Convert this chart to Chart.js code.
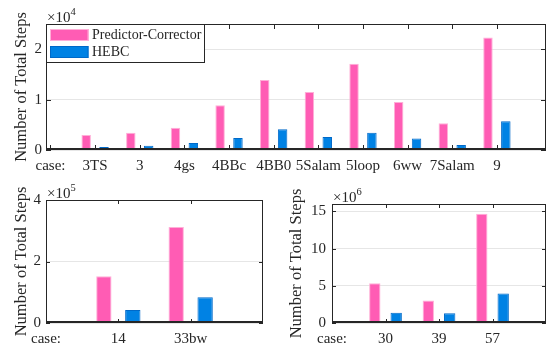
<!DOCTYPE html>
<html><head><meta charset="utf-8">
<script src="https://cdn.jsdelivr.net/npm/chart.js@4.4.1/dist/chart.umd.min.js"></script>
<style>
html,body{margin:0;padding:0;background:#fff;}
body{width:550px;height:351px;position:relative;overflow:hidden;}
canvas{position:absolute;}
</style></head>
<body>
<canvas id="cTop" width="550" height="180" style="left:0;top:0;width:550px;height:180px"></canvas>
<canvas id="cLeft" width="275" height="171" style="left:0;top:180px;width:275px;height:171px"></canvas>
<canvas id="cRight" width="275" height="171" style="left:275px;top:180px;width:275px;height:171px"></canvas>
<script>
// ---- data ----
const seriesNames = ['Predictor-Corrector', 'HEBC'];

const topCases = ['3TS', '3', '4gs', '4BBc', '4BB0', '5Salam', '5loop', '6ww', '7Salam', '9'];
const topPredictorCorrector = [3000, 3400, 4400, 8900, 13900, 11500, 17100, 9500, 5300, 22300];
const topHEBC = [600, 850, 1400, 2400, 4100, 2600, 3400, 2300, 1000, 5700];
const topYTicks = [0, 10000, 20000];

const leftCases = ['14', '33bw'];
const leftPredictorCorrector = [152000, 312000];
const leftHEBC = [42000, 84000];
const leftYTicks = [0, 200000, 400000];

const rightCases = ['30', '39', '57'];
const rightPredictorCorrector = [5350000, 3040000, 14680000];
const rightHEBC = [1380000, 1300000, 3970000];
const rightYTicks = [0, 5000000, 10000000, 15000000];

const caseLabel = 'case:';
const yTitle = 'Number of Total Steps';

// ---- style ----
const FONT = "'Liberation Serif', 'Times New Roman', serif";
const TXT = '#262626';
const PINK = 'rgb(255,92,180)';
const PINK_EDGE = 'rgb(255,175,215)';
const BLUE = 'rgb(0,130,228)';
const BLUE_EDGE = 'rgb(0,105,200)';

const framePlugin = {
  id: 'frame',
  afterDraw(chart, args, o) {
    const ctx = chart.ctx;
    const {left, right, top, bottom} = chart.chartArea;
    const x = chart.scales.x, y = chart.scales.y;
    ctx.save();
    ctx.strokeStyle = TXT;
    ctx.lineWidth = 1;
    const line = (a, b, c, d) => { ctx.beginPath(); ctx.moveTo(a, b); ctx.lineTo(c, d); ctx.stroke(); };
    ctx.strokeRect(left + 0.5, top + 0.5, right - left - 1, bottom - top - 1);
    ctx.lineWidth = 2;
    line(left, bottom - 1, right, bottom - 1);
    ctx.lineWidth = 1;
    const tl = o.tickLen;
    x.ticks.forEach(t => {
      const px = Math.round(x.getPixelForValue(t.value)) + 0.5;
      if (px < left + 2 || px > right - 2) return;
      line(px, bottom, px, bottom - tl);
      line(px, top, px, top + tl);
    });
    y.ticks.forEach(t => {
      const py = Math.round(y.getPixelForValue(t.value)) + 0.5;
      line(left, py, left + tl, py);
      line(right, py, right - tl, py);
    });
    // exponent label
    ctx.fillStyle = TXT;
    ctx.textBaseline = 'alphabetic';
    ctx.textAlign = 'left';
    ctx.font = '15px ' + FONT;
    ctx.fillText('\u00d710', left + 1, top - 2.5);
    const w = ctx.measureText('\u00d710').width;
    ctx.font = '10.5px ' + FONT;
    ctx.fillText(o.exp, left + 1 + w, top - 9);
    // legend
    if (o.legend) {
      const lx = left, ly = top, lw = 158, lh = 38;
      ctx.fillStyle = '#fff';
      ctx.fillRect(lx, ly, lw, lh);
      ctx.strokeStyle = TXT;
      ctx.strokeRect(lx + 0.5, ly + 0.5, lw, lh);
      const items = [[PINK, PINK_EDGE, 5, seriesNames[0]], [BLUE, BLUE_EDGE, 22, seriesNames[1]]];
      ctx.font = '14px ' + FONT;
      ctx.textBaseline = 'middle';
      items.forEach(([f, e, dy, txt]) => {
        ctx.fillStyle = f;
        ctx.fillRect(lx + 4, ly + dy, 38.5, 12);
        ctx.strokeStyle = e;
        ctx.strokeRect(lx + 4.5, ly + dy + 0.5, 37.5, 11);
        ctx.fillStyle = TXT;
        ctx.fillText(txt, lx + 46, ly + dy + 6.5);
      });
    }
    ctx.restore();
  }
};

function makeChart(id, o) {
  const labels = [caseLabel].concat(o.cases);
  return new Chart(document.getElementById(id), {
    type: 'bar',
    data: {
      datasets: [
        {label: seriesNames[0], data: o.pc.map((v, i) => ({x: i + 1, y: v})),
         backgroundColor: PINK, borderColor: PINK_EDGE, borderWidth: 1,
         categoryPercentage: 0.8, barPercentage: 0.53},
        {label: seriesNames[1], data: o.hebc.map((v, i) => ({x: i + 1, y: v})),
         backgroundColor: BLUE, borderColor: BLUE_EDGE, borderWidth: 1,
         categoryPercentage: 0.8, barPercentage: 0.53}
      ]
    },
    options: {
      responsive: false,
      animation: false,
      layout: {padding: {left: 0, right: o.padR, top: o.padT, bottom: 0}},
      plugins: {
        legend: {display: false},
        tooltip: {enabled: false},
        frame: {tickLen: o.tickLen, exp: o.exp, legend: o.legend}
      },
      scales: {
        x: {
          type: 'linear', min: o.xmin, max: o.xmax, offset: false,
          afterBuildTicks: s => { s.ticks = labels.map((_, i) => ({value: i})); },
          afterFit: s => { s.height = o.xh; },
          ticks: {callback: (v, i) => labels[i], autoSkip: false, maxRotation: 0, minRotation: 0,
                  padding: o.xpad, font: {family: FONT, size: 15}, color: TXT},
          grid: {display: false, drawTicks: false},
          border: {display: false}
        },
        y: {
          min: 0, max: o.ymax,
          afterBuildTicks: s => { s.ticks = o.yticks.map(v => ({value: v})); },
          afterFit: s => { s.width = o.yw; },
          ticks: {callback: v => String(Math.round(v / o.scale)), padding: o.ypad,
                  font: {family: FONT, size: 15}, color: TXT},
          grid: {color: '#e6e6e6', drawTicks: false, lineWidth: 1},
          border: {display: false},
          title: {display: true, text: yTitle, color: TXT,
                  font: {family: FONT, size: 16.5}, padding: {top: 12, bottom: 0}}
        }
      }
    },
    plugins: [framePlugin]
  });
}

makeChart('cTop', {cases: topCases, pc: topPredictorCorrector, hebc: topHEBC, yticks: topYTicks,
  ymax: 25000, scale: 1e4, exp: '4', xmin: -0.1, xmax: 11.1, padR: 4, padT: 24, yw: 46, xh: 30,
  xpad: 7, ypad: 4, tickLen: 5, legend: true});
makeChart('cLeft', {cases: leftCases, pc: leftPredictorCorrector, hebc: leftHEBC, yticks: leftYTicks,
  ymax: 400000, scale: 1e5, exp: '5', xmin: 0, xmax: 3, padR: 12, padT: 20, yw: 46, xh: 28,
  xpad: 7, ypad: 5, tickLen: 4, legend: false});
makeChart('cRight', {cases: rightCases, pc: rightPredictorCorrector, hebc: rightHEBC, yticks: rightYTicks,
  ymax: 16000000, scale: 1e6, exp: '6', xmin: 0, xmax: 4, padR: 4, padT: 24, yw: 57, xh: 28,
  xpad: 7, ypad: 6, tickLen: 4, legend: false});
</script>
</body></html>
